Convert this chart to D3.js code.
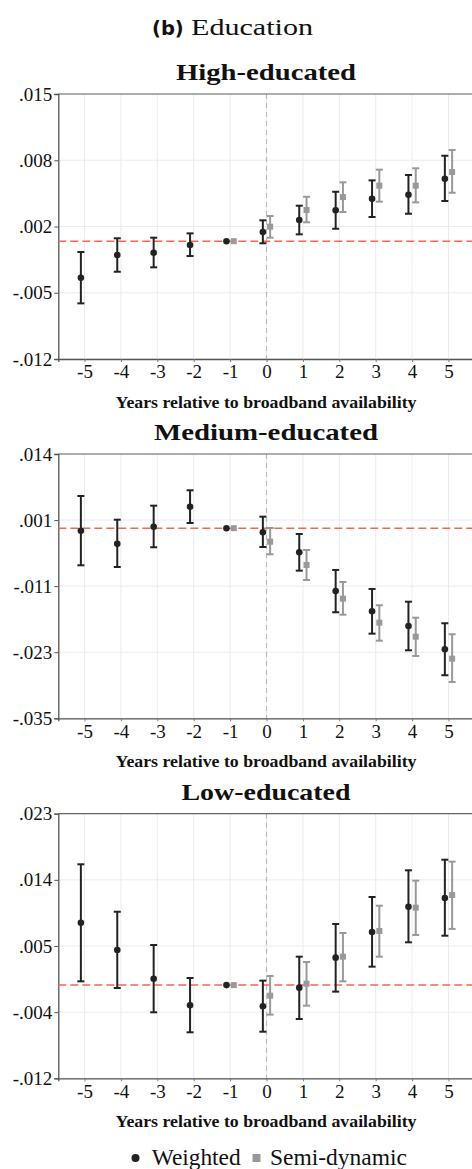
<!DOCTYPE html>
<html><head><meta charset="utf-8">
<script src="https://cdn.jsdelivr.net/npm/d3@7"></script>
<style>
body{margin:0;background:#fff;}
svg{display:block;}
</style></head>
<body>
<svg id="chart" width="472" height="1169"></svg>
<script>
// ---- data ----
const years = [-5,-4,-3,-2,-1,0,1,2,3,4,5];
const xTickLabels = ["-5","-4","-3","-2","-1","0","1","2","3","4","5"];
const panelTitles = ["High-educated","Medium-educated","Low-educated"];

// High-educated
const highW   = [-0.00372,-0.00141,-0.00117,-0.00039,0,0.00094,0.00216,0.00315,0.00433,0.00474,0.00637];
const highWLo = [-0.00633,-0.00311,-0.00266,-0.00151,0,-0.00021,0.0007,0.00127,0.00247,0.0028,0.0041];
const highWHi = [-0.0011,0.0003,0.00036,0.0008,0,0.00213,0.00362,0.00504,0.0062,0.00675,0.00871];
const highS   = [null,null,null,null,0,0.00148,0.00318,0.0045,0.00566,0.00566,0.00705];
const highSLo = [null,null,null,null,0,0.00036,0.00193,0.00298,0.00403,0.00396,0.00494];
const highSHi = [null,null,null,null,0,0.00257,0.00453,0.006,0.00729,0.00743,0.00929];
const highYTicks = [0.015,0.00825,0.0015,-0.00525,-0.012];
const highYLabels = [".015",".008",".002","-.005","-.012"];

// Medium-educated
const medW   = [-0.00046,-0.00286,0.00028,0.00397,0,-0.00075,-0.00445,-0.01159,-0.01534,-0.01805,-0.02235];
const medWLo = [-0.00685,-0.00716,-0.00352,0.00096,0,-0.00347,-0.00784,-0.01552,-0.01947,-0.02254,-0.02715];
const medWHi = [0.00595,0.00157,0.00416,0.007,0,0.00213,-0.00107,-0.00771,-0.01122,-0.01357,-0.01755];
const medS   = [null,null,null,null,0,-0.00249,-0.00679,-0.01301,-0.01744,-0.02003,-0.02409];
const medSLo = [null,null,null,null,0,-0.00482,-0.00956,-0.01597,-0.02077,-0.02359,-0.02839];
const medSHi = [null,null,null,null,0,0.00004,-0.00402,-0.00993,-0.01423,-0.01652,-0.01958];
const medYTicks = [0.0137,0.0015,-0.0107,-0.0229,-0.0351];
const medYLabels = [".014",".001","-.011","-.023","-.035"];

// Low-educated
const lowW   = [0.0083,0.00467,0.00085,-0.00269,0,-0.00282,-0.00034,0.00365,0.00707,0.01043,0.01159];
const lowWLo = [0.0005,-0.00039,-0.00362,-0.00628,0,-0.0062,-0.00451,-0.00087,0.00245,0.00569,0.00657];
const lowWHi = [0.01607,0.00976,0.00533,0.00094,0,0.00059,0.00378,0.00813,0.01172,0.01527,0.01668];
const lowS   = [null,null,null,null,0,-0.00141,0.00019,0.00378,0.0072,0.0103,0.01199];
const lowSLo = [null,null,null,null,0,-0.00393,-0.00274,0.0005,0.00378,0.00667,0.00747];
const lowSHi = [null,null,null,null,0,0.00121,0.00307,0.00693,0.01056,0.01389,0.01642];
const lowYTicks = [0.0228,0.014,0.0052,-0.0036,-0.0124];
const lowYLabels = [".023",".014",".005","-.004","-.012"];

const seriesNames = ["Weighted","Semi-dynamic"];
const mainTitleBold = "(b)";
const mainTitleText = "Education";
const xAxisTitle = "Years relative to broadband availability";

// ---- layout ----
const serif = "'Liberation Serif','DejaVu Serif',serif";
const svg = d3.select("#chart");
const colW = "#222222", colS = "#999999", colRef = "#ee6a50";

const layout = [
  {top: 94, bottom: 359, titleW: 180},
  {top: 454, bottom: 718.3, titleW: 224},
  {top: 813.7, bottom: 1078.3, titleW: 169}
];
const panels = [
  {title: panelTitles[0], w: highW, wlo: highWLo, whi: highWHi, s: highS, slo: highSLo, shi: highSHi, ticks: highYTicks, labels: highYLabels},
  {title: panelTitles[1], w: medW, wlo: medWLo, whi: medWHi, s: medS, slo: medSLo, shi: medSHi, ticks: medYTicks, labels: medYLabels},
  {title: panelTitles[2], w: lowW, wlo: lowWLo, whi: lowWHi, s: lowS, slo: lowSLo, shi: lowSHi, ticks: lowYTicks, labels: lowYLabels}
].map((p,i)=>Object.assign(p, layout[i]));

const x = d3.scaleLinear().domain([-5.72, 5.72]).range([58.3, 474.7]);
const off = 0.1;

// main title
svg.append("text").attr("x", 152).attr("y", 35)
  .style("font-family","'DejaVu Sans','Liberation Sans',sans-serif").style("font-weight","bold").style("font-size","19.5px").style("fill","#111")
  .text(mainTitleBold);
svg.append("text").attr("x", 191).attr("y", 35).attr("textLength",122).attr("lengthAdjust","spacingAndGlyphs")
  .style("font-family",serif).style("font-size","23px").style("fill","#111")
  .text(mainTitleText);

panels.forEach(p => {
  const y = d3.scaleLinear().domain([p.ticks[p.ticks.length-1], p.ticks[0]]).range([p.bottom, p.top]);
  const g = svg.append("g");

  // grid
  g.selectAll(".vg").data(years).join("line")
    .attr("x1", d=>x(d)).attr("x2", d=>x(d)).attr("y1", p.top).attr("y2", p.bottom)
    .attr("stroke","#ebebeb").attr("stroke-width",1);
  g.selectAll(".hg").data(p.ticks).join("line")
    .attr("x1", x.range()[0]).attr("x2", 472).attr("y1", d=>y(d)).attr("y2", d=>y(d))
    .attr("stroke","#ebebeb").attr("stroke-width",1);

  // vertical dashed at 0
  g.append("line").attr("x1", x(0)).attr("x2", x(0)).attr("y1", p.top).attr("y2", p.bottom)
    .attr("stroke","#bbbbbb").attr("stroke-width",1.2).attr("stroke-dasharray","5,4");

  // top border
  g.append("line").attr("x1", x.range()[0]).attr("x2", 472).attr("y1", p.top).attr("y2", p.top)
    .attr("stroke","#666").attr("stroke-width",1.2);

  // y axis
  const ya = d3.axisLeft(y).tickValues(p.ticks).tickFormat((d,i)=>p.labels[i]).tickSize(4).tickPadding(2);
  const yg = g.append("g").attr("transform",`translate(${x.range()[0]},0)`).call(ya);
  yg.select(".domain").attr("stroke","#555").attr("stroke-width",1.3);
  yg.selectAll(".tick line").attr("stroke","#555");
  yg.selectAll(".tick text").style("font-family",serif).style("font-size","19px").style("fill","#111");

  // x axis
  const xa = d3.axisBottom(x).tickValues(years).tickFormat((d,i)=>xTickLabels[i]).tickSize(3).tickPadding(3);
  const xg = g.append("g").attr("transform",`translate(0,${p.bottom})`).call(xa);
  xg.select(".domain").attr("stroke","#555").attr("stroke-width",1.3);
  xg.selectAll(".tick line").attr("stroke","#777");
  xg.selectAll(".tick text").style("font-family",serif).style("font-size","19px").style("fill","#111");

  // zero reference line
  g.append("line").attr("x1", x.range()[0]).attr("x2", 472).attr("y1", y(0)).attr("y2", y(0))
    .attr("stroke",colRef).attr("stroke-width",1.5).attr("stroke-dasharray","8,4");

  // title
  g.append("text").attr("x", 266).attr("y", p.top - 14).attr("text-anchor","middle")
    .attr("textLength", p.titleW).attr("lengthAdjust","spacingAndGlyphs")
    .style("font-family",serif).style("font-weight","bold").style("font-size","22.5px").style("fill","#111")
    .text(p.title);

  // x title
  g.append("text").attr("x", 266).attr("y", p.bottom + 49).attr("text-anchor","middle")
    .attr("textLength", 301).attr("lengthAdjust","spacingAndGlyphs")
    .style("font-family",serif).style("font-weight","bold").style("font-size","17.5px").style("fill","#111")
    .text(xAxisTitle);

  const cap = 3.5;
  // semi-dynamic
  const sData = years.map((yr,i)=>({yr, v:p.s[i], lo:p.slo[i], hi:p.shi[i]})).filter(d=>d.v!==null);
  sData.filter(d=>d.lo!==d.hi).forEach(d=>{
    const cx = x(d.yr+off);
    g.append("line").attr("x1",cx).attr("x2",cx).attr("y1",y(d.lo)).attr("y2",y(d.hi)).attr("stroke",colS).attr("stroke-width",2);
    g.append("line").attr("x1",cx-cap).attr("x2",cx+cap).attr("y1",y(d.lo)).attr("y2",y(d.lo)).attr("stroke",colS).attr("stroke-width",2);
    g.append("line").attr("x1",cx-cap).attr("x2",cx+cap).attr("y1",y(d.hi)).attr("y2",y(d.hi)).attr("stroke",colS).attr("stroke-width",2);
  });
  g.selectAll(".sq").data(sData).join("rect")
    .attr("x", d=>x(d.yr+off)-3).attr("y", d=>y(d.v)-3).attr("width",6).attr("height",6).attr("fill",colS);

  // weighted
  const wData = years.map((yr,i)=>({yr, v:p.w[i], lo:p.wlo[i], hi:p.whi[i]}));
  wData.filter(d=>d.lo!==d.hi).forEach(d=>{
    const cx = x(d.yr-off);
    g.append("line").attr("x1",cx).attr("x2",cx).attr("y1",y(d.lo)).attr("y2",y(d.hi)).attr("stroke",colW).attr("stroke-width",2);
    g.append("line").attr("x1",cx-cap).attr("x2",cx+cap).attr("y1",y(d.lo)).attr("y2",y(d.lo)).attr("stroke",colW).attr("stroke-width",2);
    g.append("line").attr("x1",cx-cap).attr("x2",cx+cap).attr("y1",y(d.hi)).attr("y2",y(d.hi)).attr("stroke",colW).attr("stroke-width",2);
  });
  g.selectAll(".ci").data(wData).join("circle")
    .attr("cx", d=>x(d.yr-off)).attr("cy", d=>y(d.v)).attr("r",3.3).attr("fill",colW);
});

// legend
const lg = svg.append("g");
lg.append("circle").attr("cx",135.5).attr("cy",1158).attr("r",4).attr("fill",colW);
lg.append("text").attr("x",151.7).attr("y",1165).attr("textLength",89).attr("lengthAdjust","spacingAndGlyphs")
  .style("font-family",serif).style("font-size","22.5px").style("fill","#111").text(seriesNames[0]);
lg.append("rect").attr("x",252.5).attr("y",1154).attr("width",8).attr("height",8).attr("fill",colS);
lg.append("text").attr("x",270).attr("y",1165).attr("textLength",137).attr("lengthAdjust","spacingAndGlyphs")
  .style("font-family",serif).style("font-size","22.5px").style("fill","#111").text(seriesNames[1]);
</script>
</body></html>
